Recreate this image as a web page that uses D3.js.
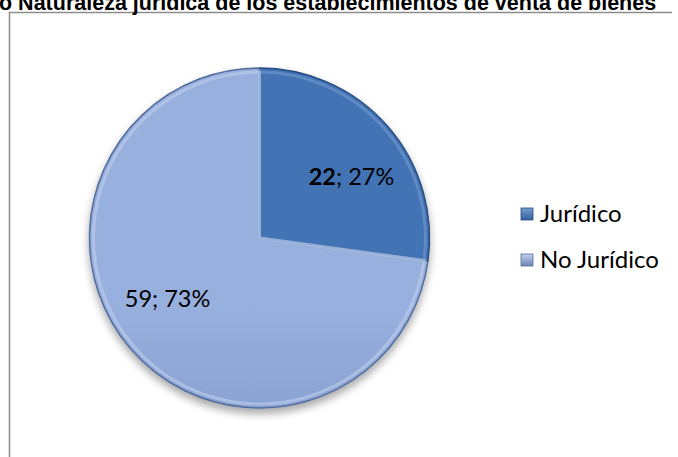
<!DOCTYPE html>
<html>
<head>
<meta charset="utf-8">
<script src="https://cdn.jsdelivr.net/npm/d3@7"></script>
<style>
  html, body { margin: 0; padding: 0; background: #fff; }
  svg { display: block; }
</style>
</head>
<body>
<div id="chart"></div>
<script>
const categories = ["Jurídico", "No Jurídico"];
const values = [22, 59];
const percents = ["27%", "73%"];
const titleText = "o Naturaleza jurídica de los establecimientos de venta de bienes";

const width = 678, height = 457;
const cx = 259.5, cy = 238, radius = 170;

const svg = d3.select("#chart").append("svg")
  .attr("width", width)
  .attr("height", height);

const defs = svg.append("defs");

// relleno con degradado para cada porción
const fills = [
  { id: "g0", top: "#4373b4", bottom: "#33609f", edge: "#284c80", hi: "#789dcf" },
  { id: "g1", top: "#98b0de", bottom: "#6a84b6", edge: "#526c9c", hi: "#c4d3ee" }
];
fills.forEach(f => {
  const lg = defs.append("linearGradient")
    .attr("id", f.id)
    .attr("gradientUnits", "userSpaceOnUse")
    .attr("x1", 0).attr("y1", cy - radius)
    .attr("x2", 0).attr("y2", cy + radius);
  lg.append("stop").attr("offset", "0%").attr("stop-color", f.top);
  lg.append("stop").attr("offset", "100%").attr("stop-color", f.bottom);

  const ll = defs.append("linearGradient")
    .attr("id", f.id + "L")
    .attr("x1", 0).attr("y1", 0).attr("x2", 0).attr("y2", 1);
  ll.append("stop").attr("offset", "0%").attr("stop-color", f.hi);
  ll.append("stop").attr("offset", "100%").attr("stop-color", f.bottom);
});

const shadow = defs.append("filter").attr("id", "shadow")
  .attr("x", "-20%").attr("y", "-20%").attr("width", "140%").attr("height", "140%");
shadow.append("feGaussianBlur").attr("in", "SourceAlpha").attr("stdDeviation", 4);
shadow.append("feOffset").attr("dx", 0).attr("dy", 5).attr("result", "b");
shadow.append("feComponentTransfer").append("feFuncA").attr("type", "linear").attr("slope", 0.35);
const merge = shadow.append("feMerge");
merge.append("feMergeNode");
merge.append("feMergeNode").attr("in", "SourceGraphic");

// marco del gráfico
svg.append("path")
  .attr("d", `M9.5,${height} L9.5,12.5 L672,12.5`)
  .attr("fill", "none")
  .attr("stroke", "#8c8c8c")
  .attr("stroke-width", 1.5);

// título (recortado en la parte superior, como en el original)
svg.append("text")
  .attr("x", -1)
  .attr("y", 10)
  .attr("font-family", "Liberation Sans, Arial, sans-serif")
  .attr("font-weight", "bold")
  .attr("font-size", 21.5)
  .attr("fill", "#000")
  .text(titleText);

const pie = d3.pie().sort(null).value(d => d);
const arcs = pie(values);
const arc = d3.arc().innerRadius(0).outerRadius(radius);
const innerArc = d3.arc().innerRadius(0).outerRadius(radius - 4);

const g = svg.append("g")
  .attr("transform", `translate(${cx},${cy})`);

const slices = g.append("g").attr("filter", "url(#shadow)");

slices.selectAll("path.slice")
  .data(arcs)
  .join("path")
  .attr("class", "slice")
  .attr("d", arc)
  .attr("fill", (d, i) => `url(#${fills[i].id})`)
  .attr("stroke", (d, i) => fills[i].edge)
  .attr("stroke-width", 1.5);

// brillo del bisel
slices.selectAll("path.bevel")
  .data(arcs)
  .join("path")
  .attr("class", "bevel")
  .attr("d", innerArc)
  .attr("fill", "none")
  .attr("stroke", (d, i) => fills[i].hi)
  .attr("stroke-opacity", 0.55)
  .attr("stroke-width", 3);

const labelR = radius * 0.65;
const labelShift = 0.13;

const labels = g.selectAll("text.lbl")
  .data(arcs)
  .join("text")
  .attr("class", "lbl")
  .attr("transform", d => {
    const a = (d.startAngle + d.endAngle) / 2 + labelShift;
    return `translate(${labelR * Math.sin(a)},${-labelR * Math.cos(a)})`;
  })
  .attr("text-anchor", "middle")
  .attr("dy", "0.35em")
  .attr("font-family", "Lato, sans-serif")
  .attr("font-size", 23.5)
  .attr("fill", "#000");

labels.append("tspan")
  .attr("font-weight", (d, i) => i === 0 ? "bold" : "normal")
  .text(d => d.data);
labels.append("tspan")
  .text((d, i) => "; " + percents[i]);

// leyenda
const legend = svg.append("g")
  .attr("transform", "translate(521,214)")
  .selectAll("g")
  .data(categories)
  .join("g")
  .attr("transform", (d, i) => `translate(0,${i * 46})`);

legend.append("rect")
  .attr("x", 0).attr("y", -6)
  .attr("width", 12).attr("height", 12)
  .attr("fill", (d, i) => `url(#${fills[i].id}L)`)
  .attr("stroke", (d, i) => fills[i].edge)
  .attr("stroke-width", 0.8);

legend.append("text")
  .attr("x", 19)
  .attr("dy", "0.35em")
  .attr("font-family", "Lato, sans-serif")
  .attr("font-size", 24)
  .attr("fill", "#000")
  .text(d => d);
</script>
</body>
</html>
